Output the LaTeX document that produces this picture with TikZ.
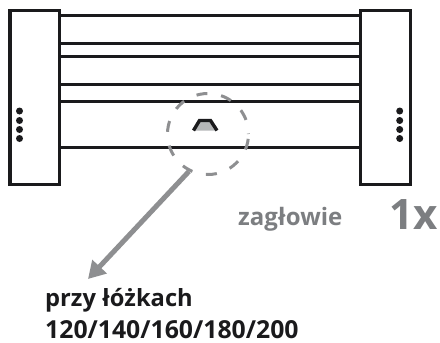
\documentclass[tikz,border=0pt]{standalone}
\usepackage{fontspec}
\setmainfont{Open Sans}
\usetikzlibrary{arrows.meta}
\definecolor{inkblack}{HTML}{1A1A1C}
\definecolor{darkgrey}{HTML}{7C7E81}
\definecolor{midgrey}{HTML}{8E8F91}
\definecolor{lightgrey}{HTML}{B5B7B8}
\tikzset{
    post/.style={rectangle,draw=inkblack,line width=3.4pt,fill=white,minimum width=49.8pt,minimum height=173.5pt,inner sep=0pt},
    slat/.style={draw=inkblack,line width=3pt},
    screw/.style={circle,fill=inkblack,minimum size=7pt,inner sep=0pt},
    spot/.style={circle,draw=midgrey,line width=3pt,dash pattern=on 11pt off 13.9pt,dash phase=10.5pt,minimum size=81pt,inner sep=0pt},
    pointer/.style={draw=midgrey,line width=5pt,-{Triangle[length=17pt,width=19pt]}},
    caption/.style={inner sep=0pt,anchor=base west}
}
\begin{document}
\begin{tikzpicture}[x=1pt,y=-1pt]
    \useasboundingbox (0,0) rectangle (440,343);

    \node[post] (postL) at (34.8,97.5) {};
    \node[post] (postR) at (385.5,97.5) {};

    \coordinate (a1) at (59,15.2);  \coordinate (b1) at (361,15.2);
    \coordinate (a2) at (59,43);    \coordinate (b2) at (361,43);
    \coordinate (a3) at (59,56);    \coordinate (b3) at (361,56);
    \coordinate (a4) at (59,84);    \coordinate (b4) at (361,84);
    \coordinate (a5) at (59,101.5); \coordinate (b5) at (361,101.5);
    \coordinate (a6) at (59,147.5); \coordinate (b6) at (361,147.5);

    \path [slat] (a1) edge (b1);
    \path [slat] (a2) edge (b2);
    \path [slat] (a3) edge (b3);
    \path [slat] (a4) edge (b4);
    \path [slat] (a5) edge (b5);
    \path [slat] (a6) edge (b6);

    \node[screw] (s1) at (19.5,111) {};
    \node[screw] (s2) at (19.5,120.5) {};
    \node[screw] (s3) at (19.5,129.5) {};
    \node[screw] (s4) at (19.5,138.5) {};
    \node[screw] (t1) at (399.7,111) {};
    \node[screw] (t2) at (399.7,120.5) {};
    \node[screw] (t3) at (399.7,129.5) {};
    \node[screw] (t4) at (399.7,138.5) {};

    % bracket seen through the ring
    \fill[lightgrey] (198,120.5) -- (211,120.5) -- (216,130.5) -- (194,130.5) -- cycle;
    \draw[inkblack,line width=3.4pt] (193.5,130.5) -- (199.5,120.5) -- (210.5,120.5) -- (217,130.5);

    \node[spot] (ring) at (208,134) {};
    \coordinate (tip) at (88,279);
    \draw [pointer] (ring.243) -- (tip);

    \node[caption,font=\bfseries\fontsize{23.7}{26}\selectfont,text=inkblack] (where) at (45,306) {przy łóżkach};
    \node[caption,font=\fontsize{24.8}{26}\selectfont\bfseries,text=inkblack] (sizes) at (45,338) {120/140/160/180/200};
    \node[caption,font=\fontsize{24}{26}\selectfont\bfseries,text=darkgrey] (part) at (238,225) {zagłowie};
    \node[caption,font=\fontsize{42}{44}\selectfont\bfseries,text=darkgrey] (count) at (389,229) {1x};
\end{tikzpicture}
\end{document}
